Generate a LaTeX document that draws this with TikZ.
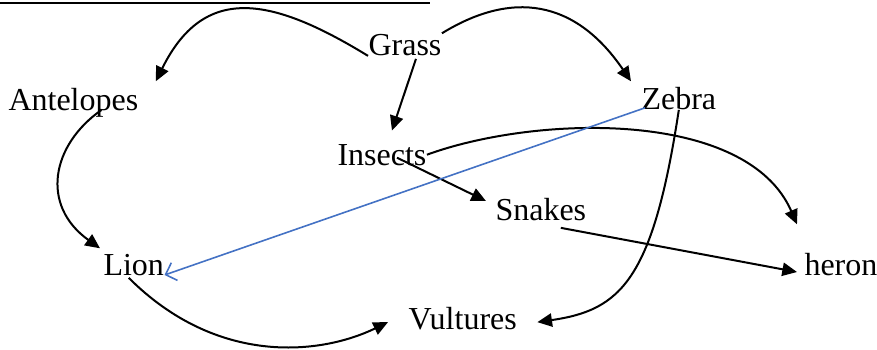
\documentclass[tikz,border=0pt]{standalone}
\usepackage{fontspec}
\setmainfont{Liberation Serif}
\usetikzlibrary{arrows.meta, positioning}
\definecolor{blueedge}{RGB}{68,114,196}

\begin{document}
\begin{tikzpicture}[x=0.375pt, y=-0.375pt,
    animal/.style={inner sep=0pt, anchor=base west,
                   font=\fontsize{12}{14}\selectfont},
    arrow/.style={-{Triangle[length=5.5pt, width=5pt]}, line width=0.75pt},
    blueline/.style={-{Straight Barb[length=3.5pt, width=7pt]},
                     line width=0.6pt, draw=blueedge}]

\useasboundingbox (0,0) rectangle (877,349);
\draw[line width=1.1pt] (0,3) -- (430,3);

\node[animal] (grass) at (368,55) {Grass};
\node[animal] (antelopes) at (8,110) {Antelopes};
\node[animal] (zebra) at (641,109) {Zebra};
\node[animal] (insects) at (337,165) {Insects};
\node[animal] (snakes) at (495,220) {Snakes};
\node[animal] (lion) at (103,275) {Lion};
\node[animal] (heron) at (804,275) {heron};
\node[animal] (vultures) at (408,329) {Vultures};

\draw[arrow] (grass.south west) .. controls +(-98,-60) and +(48,-97) .. ([shift={(17,-6)}]antelopes.north east);
\draw[arrow] ([shift={(11,3)}]grass.south) -- ([shift={(10,-13)}]insects.north);
\draw[arrow] (grass.north east) .. controls +(70,-43) and +(-56,-82) .. ([shift={(-10,-5)}]zebra.north west);
\draw[arrow] (insects.east) .. controls +(110,-40) and +(-50,-115) .. ([shift={(-7,-28)}]heron.north west);
\draw[arrow] ([shift={(15,3)}]insects.center) -- ([shift={(-9,-19)}]snakes.base west);
\draw[arrow] (zebra.south) .. controls +(-26,171) and +(83,-12) .. ([shift={(20,4)}]vultures.east);
\draw[blueline] ([shift={(4,-2)}]zebra.south west) -- (lion.base east);
\draw[arrow] ([shift={(28,0)}]antelopes.base) .. controls +(-50,35) and +(-60,-43) .. ([shift={(-3,-5)}]lion.north west);
\draw[arrow] ([shift={(-5,2)}]lion.south) .. controls +(88,88) and +(-68,33) .. ([shift={(-20,4)}]vultures.west);
\draw[arrow] ([shift={(20,7)}]snakes.south) -- ([shift={(-7,-3)}]heron.base west);
\end{tikzpicture}
\end{document}
